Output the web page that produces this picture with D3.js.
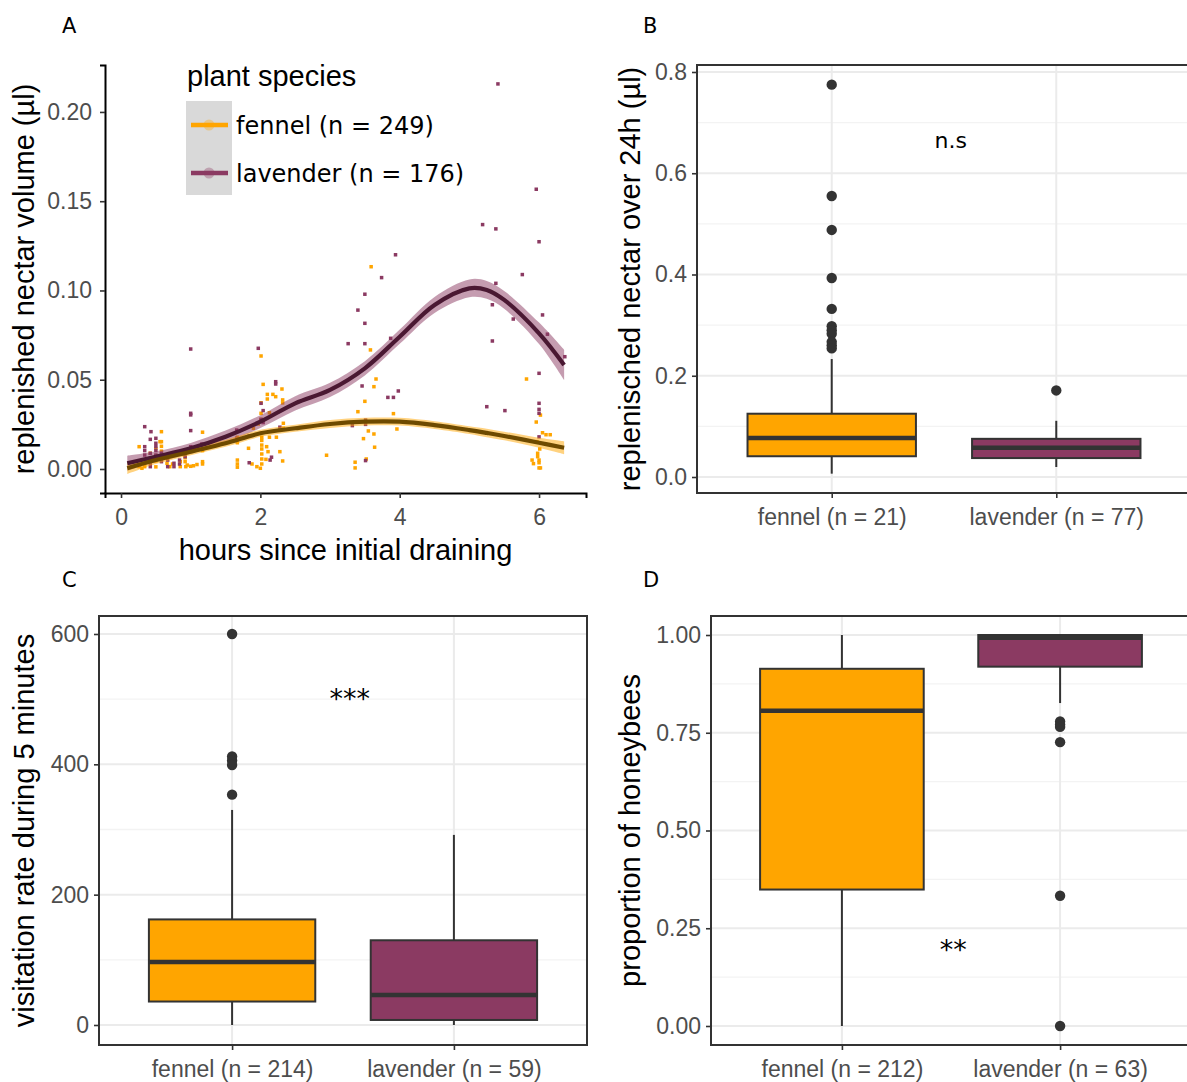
<!DOCTYPE html>
<html><head><meta charset="utf-8">
<script src="https://cdn.jsdelivr.net/npm/d3@7"></script>
<style>body{margin:0;background:#fff;} svg{display:block;}</style>
</head><body>
<script>
// ---------------- DATA ----------------
const species = ["fennel", "lavender"];
const speciesColors = ["#FFA500", "#8B3A62"];
const smoothColors = ["#6e4a00", "#4a1832"];

// Panel A: replenished nectar volume vs hours since draining
const legendLabelsA = ["fennel (n = 249)", "lavender (n = 176)"];
const xTicksA = [0, 2, 4, 6];
const yTicksA = [0.00, 0.05, 0.10, 0.15, 0.20];
const fennelPoints = [
 [0.26,0.0125],[0.26,0.0013],[0.30,0.0004],[0.34,0.0032],[0.34,0.0013],[0.42,0.0088],[0.42,0.005],[0.50,0.0115],[0.50,0.0075],[0.50,0.0045],[0.50,0.0012],
 [0.56,0.0153],[0.58,0.0209],[0.58,0.0153],[0.58,0.0127],[0.58,0.0100],[0.58,0.0069],[0.66,0.0032],[0.70,0.0013],[0.74,0.0028],[0.85,0.0041],[0.85,0.0013],
 [0.92,0.0088],[0.92,0.0063],[0.92,0.0041],[0.93,0.0013],[0.95,0.0022],[1.00,0.0015],[1.04,0.0018],[1.09,0.011],[1.09,0.0025],[1.17,0.0206],[1.17,0.0103],
 [1.17,0.0041],[1.17,0.0028],[1.67,0.0178],[1.67,0.0147],[1.67,0.005],[1.67,0.0028],[1.67,0.001],[1.83,0.0116],[1.88,0.0028],[1.90,0.0228],[1.95,0.0013],
 [1.97,0.0252],[2.00,0.0004],[2.01,0.0633],[2.01,0.0371],[2.01,0.0312],[2.01,0.0278],[2.02,0.016],[2.02,0.0134],[2.02,0.0112],[2.02,0.0084],[2.02,0.0056],
 [2.02,0.0028],[2.02,0.0178],[2.04,0.0474],[2.04,0.0274],[2.08,0.0054],[2.09,0.0125],[2.10,0.0418],[2.10,0.0392],[2.11,0.0097],[2.13,0.0315],[2.13,0.0178],
 [2.18,0.0418],[2.22,0.0405],[2.23,0.0178],[2.28,0.0097],[2.31,0.0448],[2.32,0.0045],[2.33,0.0228],[2.33,0.0256],[2.32,0.0387],[2.32,0.037],[2.95,0.0077],
 [3.36,0.0038],[3.36,0.0006],[3.40,0.0321],[3.48,0.017],[3.50,0.0379],[3.52,0.0056],[3.55,0.0213],[3.58,0.0667],[3.59,0.1133],[3.63,0.0461],[3.63,0.0196],
 [3.64,0.0122],[3.66,0.0504],[3.91,0.031],[3.96,0.0224],[5.82,0.0504],[5.90,0.005],[5.92,0.003],[5.96,0.0263],[5.97,0.0153],[5.98,0.0088],[5.98,0.0069],
 [6.00,0.0006],[6.00,0.005],[6.01,0.0112],[6.02,0.0302],[6.02,0.0006],[6.05,0.0203],[6.10,0.0192],[6.16,0.0192],[5.95,0.0153],[6.00,0.0035]
];
const lavenderPoints = [
 [0.34,0.0237],[0.34,0.0125],[0.34,0.0103],[0.34,0.0078],[0.42,0.0166],[0.42,0.0088],[0.42,0.006],[0.42,0.0032],[0.42,0.0013],[0.43,0.0209],[0.50,0.0172],
 [0.50,0.0144],[0.50,0.0125],[0.50,0.0103],[0.50,0.0078],[0.58,0.0088],[0.58,0.006],[0.58,0.0041],[0.67,0.005],[0.67,0.0013],[0.76,0.0032],[0.76,0.0013],
 [0.84,0.005],[0.84,0.0028],[0.92,0.0069],[1.00,0.0672],[1.00,0.0312],[1.00,0.0303],[1.00,0.0215],[1.00,0.0125],[1.16,0.014],[1.66,0.0218],[1.66,0.0172],
 [1.84,0.0185],[1.84,0.0035],[1.97,0.0676],[2.01,0.0368],[2.01,0.0278],[2.04,0.0327],[2.04,0.026],[2.14,0.005],[2.16,0.0066],[2.22,0.0489],[2.22,0.0476],
 [2.28,0.0234],[3.26,0.0702],[3.32,0.0243],[3.40,0.089],[3.46,0.0465],[3.50,0.0979],[3.50,0.0816],[3.50,0.0702],[3.51,0.0274],[3.51,0.025],[3.51,0.0047],
 [3.74,0.1072],[3.83,0.0401],[3.87,0.0732],[3.91,0.0401],[3.94,0.120],[3.98,0.0437],[5.25,0.0349],[5.33,0.092],[5.33,0.0717],[5.38,0.104],[5.38,0.1345],
 [5.19,0.1369],[5.41,0.2157],[5.51,0.0327],[5.63,0.084],[5.76,0.1089],[5.96,0.1567],[6.00,0.1273],[6.00,0.0536],[6.00,0.0368],[6.00,0.0334],[6.00,0.0312],
 [6.00,0.018],[6.05,0.0863],[6.12,0.0755],[6.37,0.0629]
];
// smoothed fits (loess) with standard-error half widths
const fitHours   = [0.09, 0.5, 1.0, 1.5, 2.0, 2.5, 3.0, 3.5, 4.0, 4.5, 5.0, 5.25, 5.5, 6.0, 6.36];
const fennelFit  = [0.0004,0.0050,0.0097,0.0144,0.0200,0.0228,0.0252,0.0265,0.0265,0.0246,0.0218,0.0202,0.0185,0.0147,0.0119];
const fennelSe   = [0.0032,0.0022,0.0020,0.0020,0.0020,0.0020,0.0022,0.0022,0.0022,0.0022,0.0022,0.0024,0.0024,0.0028,0.0036];
const lavenderFit= [0.0032,0.0069,0.0116,0.0181,0.0265,0.0368,0.0443,0.0564,0.0741,0.0919,0.1012,0.1003,0.0947,0.0760,0.0583];
const lavenderSe = [0.0042,0.0030,0.0030,0.0034,0.0036,0.0040,0.0040,0.0040,0.0040,0.0045,0.0050,0.0050,0.0050,0.0060,0.0085];

// Panel B: replenished nectar over 24h
const categoriesB = ["fennel (n = 21)", "lavender (n = 77)"];
const yTicksB = [0.0, 0.2, 0.4, 0.6, 0.8];
const boxB = [[0.0066,0.0410,0.0770,0.1250,0.2330],[0.0197,0.0374,0.0580,0.0754,0.1110]]; // [lo,q1,med,q3,hi]
const outliersB = [[0.775,0.555,0.488,0.393,0.332,0.298,0.290,0.283,0.267,0.260,0.254],[0.171]];
const labelB = "n.s";

// Panel C: visitation rate
const categoriesC = ["fennel (n = 214)", "lavender (n = 59)"];
const yTicksC = [0, 200, 400, 600];
const boxC = [[0,36,96.5,162,330],[0,7.7,46,130,291.7]];
const outliersC = [[600,412,406,399,353.5],[]];
const labelC = "***";

// Panel D: proportion of honeybees
const categoriesD = ["fennel (n = 212)", "lavender (n = 63)"];
const yTicksD = [0.00, 0.25, 0.50, 0.75, 1.00];
const boxD = [[0,0.349,0.806,0.9136,1.0],[0.826,0.919,0.993,1.0,1.0]];
const outliersD = [[],[0.779,0.771,0.765,0.726,0.333,0]];
const labelD = "**";

// ---------------- DRAWING ----------------
const W = 1187, H = 1082;
const svg = d3.select("body").append("svg").attr("width", W).attr("height", H)
  .style("font-family", "'Liberation Sans', Arial, sans-serif");
const tickGrey = "#4d4d4d", dark = "#333333";
const tickFont = 23, titleFont = 29;

function panelLetter(t, x, y) {
  svg.append("text").attr("x", x).attr("y", y).text(t)
    .style("font-family", "'DejaVu Sans', Verdana, sans-serif").style("font-size", "21px").attr("fill", "#000");
}
function styleAxis(g) {
  g.selectAll(".tick line").attr("stroke", dark).attr("stroke-width", 1.6);
  g.selectAll(".tick text").attr("fill", tickGrey).style("font-size", tickFont + "px")
    .style("font-family", "'Liberation Sans', Arial, sans-serif");
}

// ----- Panel A -----
(function () {
  const L = 105, R = 586, T = 65, B = 493;
  const x = d3.scaleLinear().domain([-0.23, 6.674]).range([L, R]);
  const y = d3.scaleLinear().domain([-0.01345, 0.2263]).range([B, T]);
  const g = svg.append("g");
  const fits = [fennelFit, lavenderFit], ses = [fennelSe, lavenderSe];
  const pts = [fennelPoints, lavenderPoints];
  pts.forEach((arr, i) => {
    g.append("g").selectAll("rect").data(arr).join("rect")
      .attr("x", d => x(d[0]) - 1.75).attr("y", d => y(d[1]) - 1.75)
      .attr("width", 3.5).attr("height", 3.5).attr("fill", speciesColors[i]);
  });
  const curve = d3.curveCatmullRom.alpha(0.5);
  [1, 0].forEach(i => {
    const data = fitHours.map((h, k) => [h, fits[i][k], ses[i][k]]);
    g.append("path").datum(data)
      .attr("d", d3.area().curve(curve).x(d => x(d[0])).y0(d => y(d[1] - d[2])).y1(d => y(d[1] + d[2])))
      .attr("fill", speciesColors[i]).attr("opacity", 0.5);
  });
  [1, 0].forEach(i => {
    const data = fitHours.map((h, k) => [h, fits[i][k]]);
    g.append("path").datum(data)
      .attr("d", d3.line().curve(curve).x(d => x(d[0])).y(d => y(d[1])))
      .attr("fill", "none").attr("stroke", smoothColors[i]).attr("stroke-width", 4.2);
  });
  const ax = g.append("g").attr("transform", `translate(0,${B})`)
    .call(d3.axisBottom(x).tickValues(xTicksA).tickFormat(d3.format("d")).tickSizeOuter(0).tickSize(5).tickPadding(11));
  const ay = g.append("g").attr("transform", `translate(${L},0)`)
    .call(d3.axisLeft(y).tickValues(yTicksA).tickFormat(d3.format(".2f")).tickSizeOuter(0).tickSize(5).tickPadding(8));
  [ax, ay].forEach(a => { styleAxis(a); a.select(".domain").attr("stroke", "#000").attr("stroke-width", 2); });
  g.append("text").attr("x", (L + R) / 2).attr("y", 560).attr("text-anchor", "middle")
    .style("font-size", titleFont + "px").text("hours since initial draining");
  g.append("text").attr("transform", `translate(34,${(T + B) / 2}) rotate(-90)`).attr("text-anchor", "middle")
    .style("font-size", titleFont + "px").text("replenished nectar volume (µl)");
  // legend
  g.append("text").attr("x", 187).attr("y", 86).style("font-size", titleFont + "px").text("plant species");
  g.append("rect").attr("x", 186).attr("y", 101).attr("width", 46).attr("height", 94).attr("fill", "#d9d9d9");
  legendLabelsA.forEach((lab, i) => {
    const cy = 125 + i * 48;
    g.append("circle").attr("cx", 209).attr("cy", cy).attr("r", 5.5).attr("fill", speciesColors[i]).attr("opacity", 0.35);
    g.append("line").attr("x1", 191).attr("x2", 228).attr("y1", cy).attr("y2", cy)
      .attr("stroke", speciesColors[i]).attr("stroke-width", 4.5);
    g.append("text").attr("x", 236).attr("y", cy + 8.5).text(lab)
      .style("font-family", "'DejaVu Sans', Verdana, sans-serif").style("font-size", "24px");
  });
})();

// ----- Box panels -----
function boxPanel(o) {
  const { L, R, T, B, ydom, yticks, minor, fmt, cats, stats, outl, label, labelPos, titleX, title, stars } = o;
  const x = d3.scaleLinear().domain([0.4, 2.6]).range([L, R]);
  const y = d3.scaleLinear().domain(ydom).range([B, T]);
  const g = svg.append("g");
  minor.forEach(v => g.append("line").attr("x1", L).attr("x2", R).attr("y1", y(v)).attr("y2", y(v))
    .attr("stroke", "#f3f3f3").attr("stroke-width", 1.3));
  yticks.forEach(v => g.append("line").attr("x1", L).attr("x2", R).attr("y1", y(v)).attr("y2", y(v))
    .attr("stroke", "#ebebeb").attr("stroke-width", 2));
  cats.forEach((c, i) => g.append("line").attr("x1", x(i + 1)).attr("x2", x(i + 1)).attr("y1", T).attr("y2", B)
    .attr("stroke", "#ebebeb").attr("stroke-width", 2));
  stats.forEach((s, i) => {
    const cx = x(i + 1), hw = (x(1.375) - x(1));
    g.append("line").attr("x1", cx).attr("x2", cx).attr("y1", y(s[0])).attr("y2", y(s[1])).attr("stroke", dark).attr("stroke-width", 2);
    g.append("line").attr("x1", cx).attr("x2", cx).attr("y1", y(s[3])).attr("y2", y(s[4])).attr("stroke", dark).attr("stroke-width", 2);
    g.append("rect").attr("x", cx - hw).attr("width", 2 * hw).attr("y", y(s[3])).attr("height", y(s[1]) - y(s[3]))
      .attr("fill", speciesColors[i]).attr("stroke", dark).attr("stroke-width", 2);
    g.append("line").attr("x1", cx - hw).attr("x2", cx + hw).attr("y1", y(s[2])).attr("y2", y(s[2]))
      .attr("stroke", dark).attr("stroke-width", 4.5);
    g.selectAll(null).data(outl[i]).join("circle").attr("cx", cx).attr("cy", d => y(d)).attr("r", 5.2).attr("fill", dark);
  });
  g.append("rect").attr("x", L).attr("y", T).attr("width", R - L).attr("height", B - T)
    .attr("fill", "none").attr("stroke", dark).attr("stroke-width", 2);
  const ax = g.append("g").attr("transform", `translate(0,${B})`)
    .call(d3.axisBottom(x).tickValues([1, 2]).tickFormat((d, i) => cats[i]).tickSizeOuter(0).tickSize(5).tickPadding(11));
  const ay = g.append("g").attr("transform", `translate(${L},0)`)
    .call(d3.axisLeft(y).tickValues(yticks).tickFormat(fmt).tickSizeOuter(0).tickSize(5).tickPadding(5));
  [ax, ay].forEach(a => { styleAxis(a); a.select(".domain").remove(); });
  const fs = stars ? 27 : 22;
  g.append("text").attr("x", x(labelPos[0])).attr("y", y(labelPos[1]))
    .attr("dy", stars ? "0.56em" : "0.35em").attr("text-anchor", "middle")
    .style("font-family", "'DejaVu Sans', Verdana, sans-serif").style("font-size", fs + "px").text(label);
  g.append("text").attr("transform", `translate(${titleX},${(T + B) / 2}) rotate(-90)`).attr("text-anchor", "middle")
    .style("font-size", titleFont + "px").text(title);
}

boxPanel({ L: 697, R: 1191, T: 65, B: 493, ydom: [-0.0316, 0.8138], yticks: yTicksB, minor: [0.1, 0.3, 0.5, 0.7],
  fmt: d3.format(".1f"), cats: categoriesB, stats: boxB, outl: outliersB, label: labelB, labelPos: [1.53, 0.666],
  titleX: 640, title: "replenisched nectar over 24h (µl)", stars: false });
boxPanel({ L: 99, R: 587, T: 616, B: 1045, ydom: [-30.7, 627.6], yticks: yTicksC, minor: [100, 300, 500],
  fmt: d3.format("d"), cats: categoriesC, stats: boxC, outl: outliersC, label: labelC, labelPos: [1.53, 509],
  titleX: 34, title: "visitation rate during 5 minutes", stars: true });
boxPanel({ L: 711, R: 1191, T: 616, B: 1045, ydom: [-0.0486, 1.0486], yticks: yTicksD, minor: [0.125, 0.375, 0.625, 0.875],
  fmt: d3.format(".2f"), cats: categoriesD, stats: boxD, outl: outliersD, label: labelD, labelPos: [1.51, 0.21],
  titleX: 640, title: "proportion of honeybees", stars: true });

panelLetter("A", 62, 33);
panelLetter("B", 643, 33);
panelLetter("C", 62, 587);
panelLetter("D", 643, 587);
</script>
</body></html>
